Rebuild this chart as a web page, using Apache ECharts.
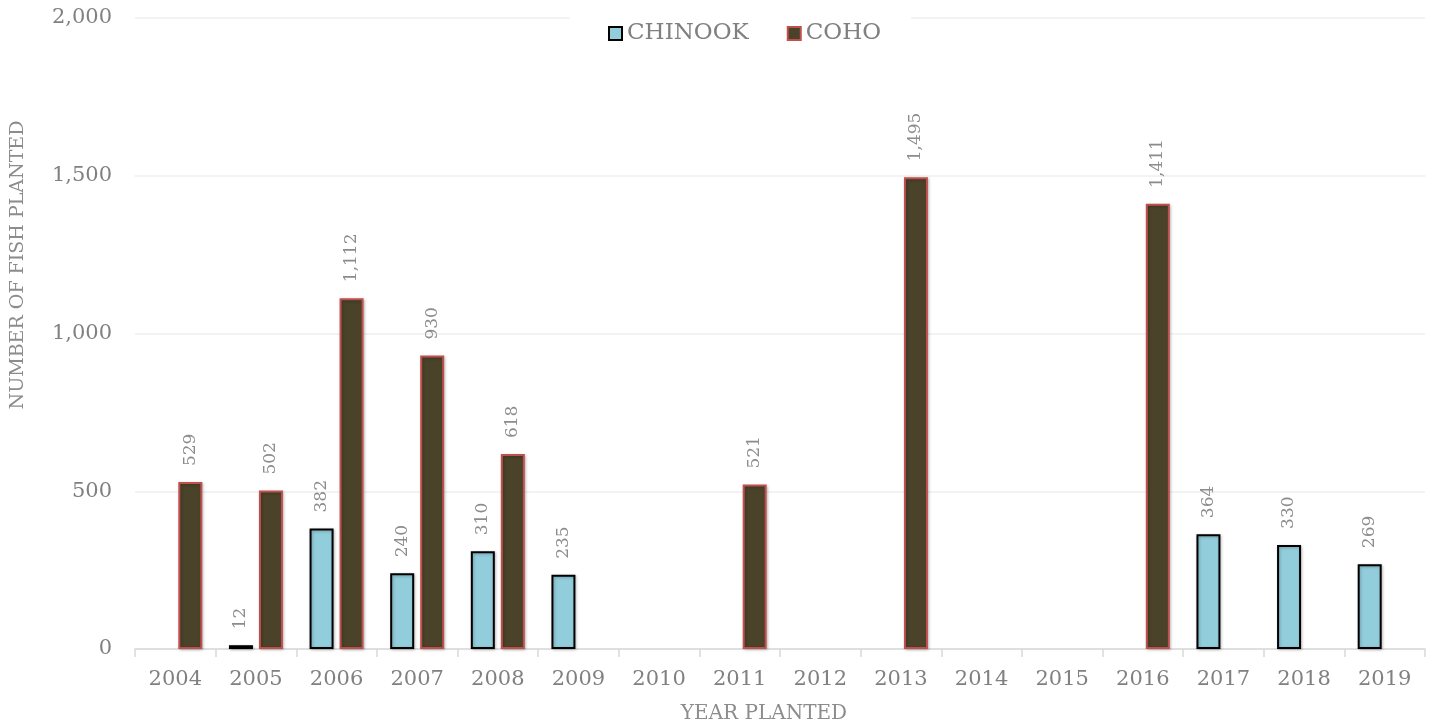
<!DOCTYPE html>
<html>
<head>
<meta charset="utf-8">
<script src="https://cdn.jsdelivr.net/npm/echarts@6/dist/echarts.min.js"></script>
<style>html,body{margin:0;padding:0;background:#fff}#c{width:1430px;height:725px}</style>
</head>
<body>
<div id="c"></div>
<script>
const years = ['2004','2005','2006','2007','2008','2009','2010','2011','2012','2013','2014','2015','2016','2017','2018','2019'];
const chinook = [null, 12, 382, 240, 310, 235, null, null, null, null, null, null, null, 364, 330, 269];
const coho = [529, 502, 1112, 930, 618, null, null, 521, null, 1495, null, null, 1411, null, null, null];
const yTicks = [0, 500, 1000, 1500, 2000];
const xTitle = 'YEAR PLANTED';
const yTitle = 'NUMBER OF FISH PLANTED';

const FONT = 'DejaVu Serif';
const chart = echarts.init(document.getElementById('c'), null, {renderer: 'canvas'});
const fmt = v => v.toLocaleString('en-US');
const labelCfg = {
  show: true, position: 'top', rotate: 90, distance: 16,
  align: 'left', verticalAlign: 'middle',
  color: '#8c8c8c', fontFamily: FONT, fontSize: 17,
  formatter: p => fmt(p.value)
};
const shadow = {shadowBlur: 3, shadowColor: 'rgba(0,0,0,0.25)', shadowOffsetX: 1, shadowOffsetY: 1};
chart.setOption({
  animation: false,
  textStyle: {fontFamily: FONT},
  grid: {left: 135, right: 5, top: 18, bottom: 76, containLabel: false, outerBoundsMode: 'none'},
  legend: {
    top: 8, left: 570,
    backgroundColor: '#ffffff', padding: [14, 30, 6, 38],
    itemWidth: 13, itemHeight: 13, itemGap: 38, icon: 'rect',
    textStyle: {color: '#808080', fontFamily: FONT, fontSize: 23},
    data: ['CHINOOK', 'COHO']
  },
  graphic: [
    {type: 'text', x: 764, y: 714, silent: true,
      style: {text: xTitle, x: 0, y: 0, align: 'center', verticalAlign: 'middle',
        fill: '#8c8c8c', font: '20px "DejaVu Serif"'}},
    {type: 'text', x: 18, y: 265, rotation: Math.PI / 2, silent: true,
      style: {text: yTitle, x: 0, y: 0, align: 'center', verticalAlign: 'middle',
        fill: '#8c8c8c', font: '19px "DejaVu Serif"'}}
  ],
  xAxis: {
    type: 'category', data: years,
    axisLine: {lineStyle: {color: '#d9d9d9', width: 1.5}},
    axisTick: {show: true, length: 8, lineStyle: {color: '#d9d9d9', width: 1.5}},
    axisLabel: {color: '#808080', fontFamily: FONT, fontSize: 21, margin: 20}
  },
  yAxis: {
    type: 'value', min: yTicks[0], max: yTicks[yTicks.length - 1], interval: yTicks[1] - yTicks[0],
    axisLine: {show: false}, axisTick: {show: false},
    splitLine: {lineStyle: {color: '#efefef', width: 1.5}},
    axisLabel: {color: '#808080', fontFamily: FONT, fontSize: 21, margin: 23, formatter: v => fmt(v)}
  },
  series: [
    {
      name: 'CHINOOK', type: 'bar', data: chinook, barWidth: 24, barGap: '25%',
      itemStyle: Object.assign({color: '#92cddc', borderColor: '#000000', borderWidth: 2}, shadow),
      label: labelCfg
    },
    {
      name: 'COHO', type: 'bar', data: coho, barWidth: 24,
      itemStyle: Object.assign({color: '#4a432a', borderColor: '#c0504d', borderWidth: 2}, shadow),
      label: labelCfg
    }
  ]
});
</script>
</body>
</html>
